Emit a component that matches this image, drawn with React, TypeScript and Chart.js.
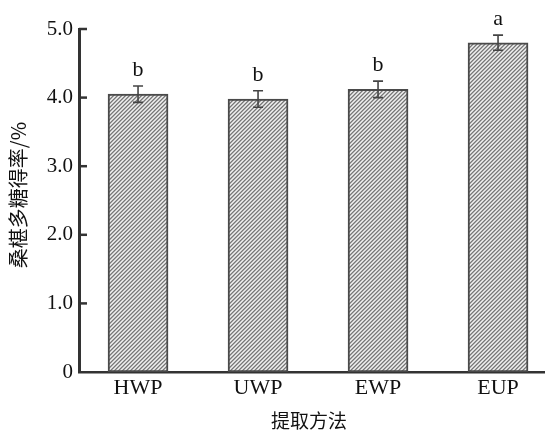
import React, { useEffect, useRef } from "react";
import { Chart, registerables } from "chart.js";

Chart.register(...registerables);

const categories = ["HWP", "UWP", "EWP", "EUP"];
const values = [4.05, 3.98, 4.12, 4.8];
const errors = [0.12, 0.12, 0.12, 0.11];
const letters = ["b", "b", "b", "a"];
const yTicks = [0, 1, 2, 3, 4, 5];
const yTitle = "桑椹多糖得率/%";
const xTitle = "提取方法";

function makePattern(ctx: CanvasRenderingContext2D) {
  const c = document.createElement("canvas");
  c.width = 4;
  c.height = 4;
  const p = c.getContext("2d")!;
  const shades = ["#787878", "#a8a8a8", "#eeeeee", "#d0d0d0"];
  for (let x = 0; x < 4; x++) {
    for (let y = 0; y < 4; y++) {
      p.fillStyle = shades[(x + y) % 4];
      p.fillRect(x, y, 1, 1);
    }
  }
  return ctx.createPattern(c, "repeat")!;
}

const extras = {
  id: "extras",
  afterDatasetsDraw(chart: any) {
    const { ctx, scales } = chart;
    const xs = scales.x;
    const ys = scales.y;
    ctx.save();
    ctx.strokeStyle = "#444";
    ctx.lineWidth = 1.6;
    values.forEach((v, i) => {
      const x = xs.getPixelForValue(i + 1);
      const top = ys.getPixelForValue(v + errors[i]);
      const bot = ys.getPixelForValue(v - errors[i]);
      ctx.beginPath();
      ctx.moveTo(x, top);
      ctx.lineTo(x, bot);
      ctx.moveTo(x - 5, top);
      ctx.lineTo(x + 5, top);
      ctx.moveTo(x - 5, bot);
      ctx.lineTo(x + 5, bot);
      ctx.stroke();
      ctx.fillStyle = "#111";
      ctx.font = "22px 'Liberation Serif'";
      ctx.textAlign = "center";
      ctx.textBaseline = "bottom";
      ctx.fillText(letters[i], x, top - 5);
    });
    ctx.strokeStyle = "#333";
    ctx.lineWidth = 2.5;
    yTicks.forEach((t) => {
      if (t === 0) return;
      const y = ys.getPixelForValue(t);
      ctx.beginPath();
      ctx.moveTo(xs.left, y);
      ctx.lineTo(xs.left + 8, y);
      ctx.stroke();
    });
    ctx.fillStyle = "#111";
    ctx.font = "19px 'Noto Sans CJK SC'";
    ctx.textAlign = "center";
    ctx.textBaseline = "middle";
    ctx.fillText(xTitle, 309, 421);
    ctx.translate(18, 195);
    ctx.rotate(-Math.PI / 2);
    ctx.font = "20px 'Noto Sans CJK SC'";
    ctx.fillText(yTitle, 0, 0);
    ctx.restore();
  },
};

export default function App() {
  const ref = useRef<HTMLCanvasElement>(null);
  useEffect(() => {
    const canvas = ref.current!;
    const ctx = canvas.getContext("2d")!;
    const pattern = makePattern(ctx);
    const chart = new Chart(canvas, {
      type: "bar",
      data: {
        datasets: [
          {
            data: values.map((v, i) => ({ x: i + 1, y: v })),
            backgroundColor: pattern,
            borderColor: "#4a4a4a",
            borderWidth: 2,
            borderSkipped: false,
            barThickness: 60,
          },
        ],
      },
      options: {
        responsive: false,
        animation: false,
        events: [],
        layout: { padding: { top: 29, right: 3, left: 0, bottom: 0 } },
        plugins: { legend: { display: false }, tooltip: { enabled: false } },
        scales: {
          x: {
            type: "linear",
            offset: false,
            min: 0.508,
            max: 4.383,
            afterFit: (s: any) => {
              s.height = 61;
            },
            afterBuildTicks: (s: any) => {
              s.ticks = [1, 2, 3, 4].map((v) => ({ value: v }));
            },
            grid: { display: false, drawTicks: false, offset: false },
            border: { display: true, color: "#333", width: 2.5 },
            ticks: {
              callback: (v: any) => categories[Number(v) - 1] ?? "",
              color: "#111",
              font: { family: "'Liberation Serif'", size: 22 },
              padding: 3,
              maxRotation: 0,
              autoSkip: false,
            },
          },
          y: {
            min: 0,
            max: 5,
            afterFit: (s: any) => {
              s.width = 79;
            },
            afterBuildTicks: (s: any) => {
              s.ticks = yTicks.map((v) => ({ value: v }));
            },
            grid: { display: false, drawTicks: false },
            border: { display: true, color: "#333", width: 3 },
            ticks: {
              callback: (v: any) => (Number(v) === 0 ? "0" : Number(v).toFixed(1)),
              color: "#111",
              font: { family: "'Liberation Serif'", size: 21 },
              padding: 6,
            },
          },
        },
      },
      plugins: [extras],
    });
    return () => chart.destroy();
  }, []);
  return (
    <div style={{ position: "fixed", left: 0, top: 0, width: 547, height: 433, background: "#fff" }}>
      <canvas ref={ref} width={547} height={433} style={{ display: "block" }} />
    </div>
  );
}
